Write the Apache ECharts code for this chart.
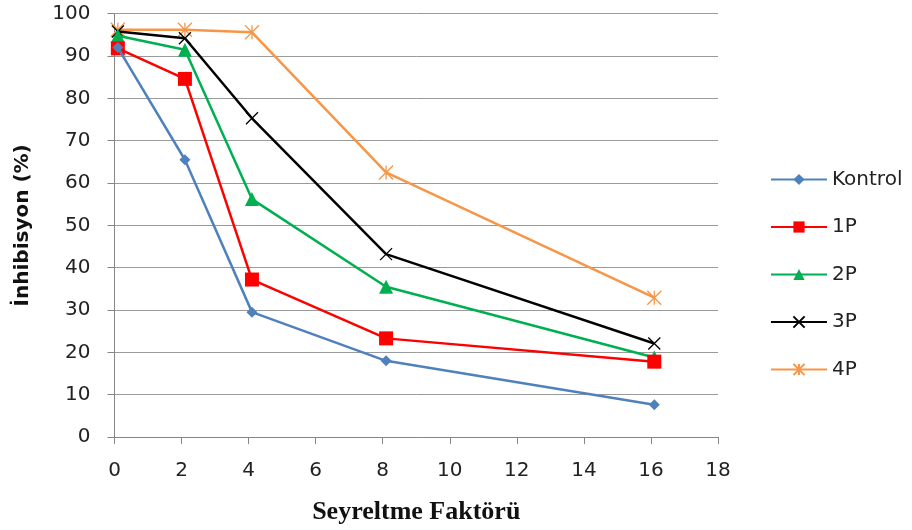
<!DOCTYPE html>
<html><head><meta charset="utf-8">
<script src="https://cdn.jsdelivr.net/npm/echarts@6/dist/echarts.min.js"></script>
<style>html,body{margin:0;padding:0;background:#fff}#c{width:912px;height:530px}</style>
</head><body><div id="c"></div>
<script>
const xValues = [0.1, 2.1, 4.1, 8.1, 16.1];
const seriesNames = ['Kontrol', '1P', '2P', '3P', '4P'];
const kontrol = [92.0, 65.5, 29.5, 18.0, 7.6];
const p1 = [91.8, 84.6, 37.2, 23.3, 17.8];
const p2 = [94.8, 91.5, 56.2, 35.5, 18.8];
const p3 = [95.8, 94.2, 75.3, 43.2, 22.1];
const p4 = [96.2, 96.2, 95.6, 62.5, 32.9];
const xTicks = [0, 2, 4, 6, 8, 10, 12, 14, 16, 18];
const yTicks = [0, 10, 20, 30, 40, 50, 60, 70, 80, 90, 100];

const colors = ['#4F81BD', '#FF0000', '#00B050', '#000000', '#F79646'];
const symbols = [
  'diamond',
  'rect',
  'triangle',
  'path://M0,0L10,10M10,0L0,10',
  'path://M0,0L10,10M10,0L0,10M5,0L5,10'
];
const sizes = [11, 14, 14, 12, 14];
const allData = [kontrol, p1, p2, p3, p4];

const chart = echarts.init(document.getElementById('c'), null, {renderer: 'canvas'});
const font = '"DejaVu Sans", sans-serif';
chart.setOption({
  animation: false,
  color: colors,
  grid: {left: 114.5, right: 194, top: 13.7, bottom: 88.3, containLabel: false},
  legend: {
    orient: 'vertical', left: 765, top: 164.5, itemGap: 27.5,
    itemWidth: 56, itemHeight: 14,
    textStyle: {fontFamily: font, fontSize: 20, color: '#222'},
    data: seriesNames
  },
  xAxis: {
    type: 'value', min: 0, max: 18, interval: 2,
    name: 'Seyreltme Faktörü', nameLocation: 'middle', nameGap: 62,
    nameTextStyle: {fontFamily: '"Liberation Serif", serif', fontWeight: 'bold', fontSize: 26, color: '#111'},
    axisLine: {show: true, lineStyle: {color: '#868686', width: 1}},
    axisTick: {show: true, length: 7, lineStyle: {color: '#868686'}},
    axisLabel: {fontFamily: font, fontSize: 20, color: '#222', margin: 24,
      formatter: v => xTicks.includes(v) ? String(v) : ''},
    splitLine: {show: false}
  },
  yAxis: {
    type: 'value', min: 0, max: 100, interval: 10,
    name: 'İnhibisyon (%)', nameLocation: 'middle', nameGap: 82, nameRotate: 90,
    nameTextStyle: {fontFamily: '"DejaVu Sans", sans-serif', fontWeight: 'bold', fontSize: 20, color: '#111'},
    axisLine: {show: true, lineStyle: {color: '#868686', width: 1}},
    axisTick: {show: true, length: 7, lineStyle: {color: '#868686'}},
    axisLabel: {fontFamily: font, fontSize: 20, color: '#222', margin: 24,
      formatter: v => yTicks.includes(v) ? String(v) : ''},
    splitLine: {show: true, lineStyle: {color: '#9a9a9a', width: 1}}
  },
  series: seriesNames.map((n, i) => ({
    name: n, type: 'line',
    data: xValues.map((x, j) => [x, allData[i][j]]),
    symbol: symbols[i], symbolSize: sizes[i],
    showSymbol: true,
    lineStyle: {width: 2.5, color: colors[i]},
    itemStyle: {color: colors[i], borderColor: colors[i], borderWidth: i >= 3 ? 1.3 : 0},
    z: 2 + (4 - i)
  }))
});
</script></body></html>
